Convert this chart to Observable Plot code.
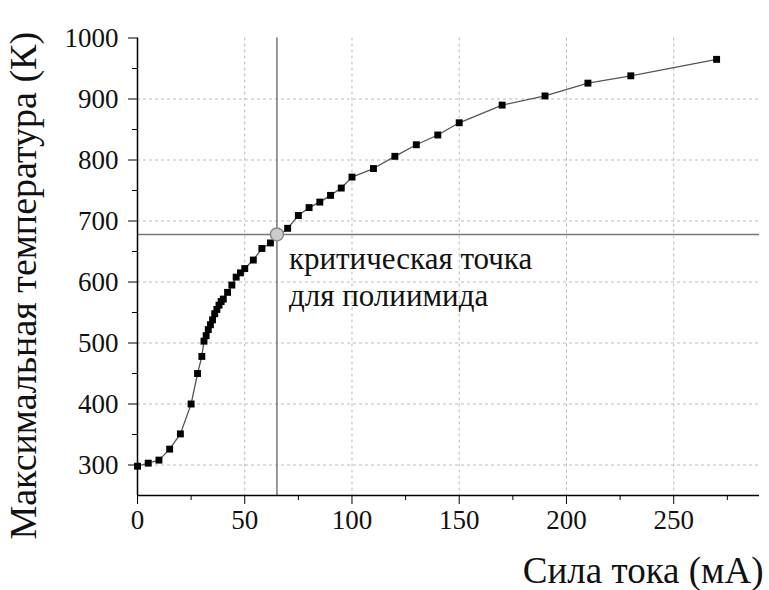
<!DOCTYPE html>
<html>
<head>
<meta charset="utf-8">
<script src="https://cdn.jsdelivr.net/npm/d3@7"></script>
<script src="https://cdn.jsdelivr.net/npm/@observablehq/plot@0.6"></script>
<style>
  html, body { margin: 0; padding: 0; background: #fff; }
  #chart svg, #chart svg text { font-family: "Liberation Serif", "Times New Roman", serif !important; font-variant-numeric: normal !important; }
</style>
</head>
<body>
<div id="chart"></div>
<script>
// Data
const current = [0,5,10,15,20,25,28,30,31,32,33,34,35,36,37,38,39,40,42,44,46,48,50,54,58,62,70,75,80,85,90,95,100,110,120,130,140,150,170,190,210,230,270];
const temperature = [298,303,308,326,351,400,450,478,503,512,522,530,538,548,555,562,568,572,583,595,608,615,622,636,655,664,688,709,722,731,742,754,772,786,806,825,841,861,890,905,926,938,965];
const criticalCurrent = [65];
const criticalTemp = [678];
const xTicks = [0,50,100,150,200,250];
const xMinorTicks = [25,75,125,175,225,275];
const yTicks = [300,400,500,600,700,800,900,1000];
const yMinorTicks = [350,450,550,650,750,850,950];
const xLabel = "Сила тока (мА)";
const yLabel = "Максимальная температура (К)";
const noteText = "критическая точка\nдля полиимида";

const data = current.map((c, i) => ({current: c, temp: temperature[i]}));
const critical = criticalCurrent.map((c, i) => ({current: c, temp: criticalTemp[i]}));

const font = "'Liberation Serif', 'Times New Roman', serif";

const chart = Plot.plot({
  width: 769,
  height: 590,
  marginLeft: 137,
  marginRight: 10,
  marginTop: 37.5,
  marginBottom: 95,
  style: {fontFamily: font, background: "#fff", color: "#111"},
  x: {domain: [0, 290]},
  y: {domain: [250, 1000]},
  marks: [
    Plot.gridX(xTicks.filter(d => d > 0), {stroke: "#bbb", strokeOpacity: 1, strokeDasharray: "3,3"}),
    Plot.gridY(yTicks.filter(d => d < 1000), {stroke: "#bbb", strokeOpacity: 1, strokeDasharray: "3,3"}),
    Plot.ruleX(criticalCurrent, {stroke: "#777", strokeWidth: 1.5}),
    Plot.ruleY(criticalTemp, {stroke: "#777", strokeWidth: 1.5}),
    Plot.line(data, {x: "current", y: "temp", stroke: "#555", strokeWidth: 1.3}),
    Plot.dot(data, {x: "current", y: "temp", symbol: "square", r: 3.9, fill: "#000", stroke: "none"}),
    Plot.dot(critical, {x: "current", y: "temp", r: 6.5, fill: "#ccc", stroke: "#888", strokeWidth: 1.5}),
    Plot.text(critical, {x: "current", y: "temp", text: () => noteText, textAnchor: "start", lineAnchor: "top", dx: 12, dy: 8, fontSize: 31, lineHeight: 1.2, fill: "#111", fontFamily: font}),
    Plot.ruleX([0], {stroke: "#000", strokeWidth: 1.5}),
    Plot.ruleY([250], {stroke: "#000", strokeWidth: 1.5}),
    Plot.axisX({ticks: xTicks, tickSize: 9, tickPadding: 5, fontSize: 27, tickFormat: d => String(d), label: null, stroke: "#000", fill: "#111", fontFamily: font}),
    Plot.axisX({ticks: xMinorTicks, tickSize: 5, tickFormat: () => "", label: null, stroke: "#000"}),
    Plot.axisY({ticks: yTicks, tickSize: 9, tickPadding: 10, fontSize: 27, tickFormat: d => String(d), label: null, stroke: "#000", fill: "#111", fontFamily: font}),
    Plot.axisY({ticks: yMinorTicks, tickSize: 5, tickFormat: () => "", label: null, stroke: "#000"}),
    Plot.text([xLabel], {frameAnchor: "bottom-right", text: d => d, textAnchor: "end", lineAnchor: "bottom", dy: 87, dx: 4, fontSize: 37, fill: "#111", fontFamily: font}),
    Plot.text([yLabel], {frameAnchor: "left", text: d => d, rotate: -90, textAnchor: "middle", lineAnchor: "top", dx: -128, dy: 19, fontSize: 38, fill: "#111", fontFamily: font})
  ]
});
d3.select(chart).selectAll("g[aria-label$='tick label'] text")
  .style("font-family", font)
  .style("font-size", "27px");
document.getElementById("chart").appendChild(chart);
</script>
</body>
</html>
